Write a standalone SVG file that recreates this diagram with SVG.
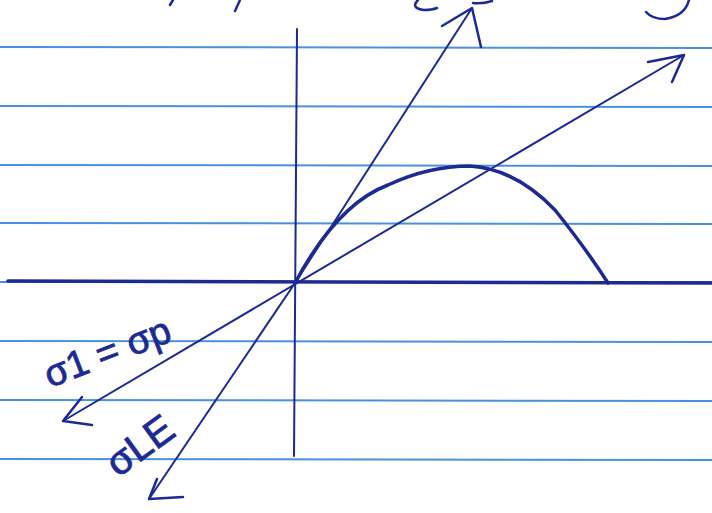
<svg xmlns="http://www.w3.org/2000/svg" width="712" height="513" viewBox="0 0 712 513">
<style>
.rule{stroke:#4a90dc;stroke-width:2;fill:none}
.ink{stroke:#1c2a92;fill:none;stroke-linecap:round;stroke-linejoin:round}
.lbl{font-family:"Liberation Sans",Arial,sans-serif;fill:#1c2a92;stroke:#1c2a92;stroke-width:0.8}
</style>
<rect width="712" height="513" fill="#ffffff"/>
<g id="paper">
<line class="rule" x1="0" y1="47" x2="712" y2="48"/>
<line class="rule" x1="0" y1="106" x2="712" y2="107"/>
<line class="rule" x1="0" y1="165" x2="712" y2="166"/>
<line class="rule" x1="0" y1="223" x2="712" y2="224"/>
<line class="rule" x1="0" y1="282" x2="712" y2="282"/>
<line class="rule" x1="0" y1="341" x2="712" y2="342"/>
<line class="rule" x1="0" y1="400" x2="712" y2="401"/>
<line class="rule" x1="0" y1="459" x2="712" y2="460"/>
</g>
<g id="fragments">
<path class="ink" stroke-width="2.5" d="M173 0 L170 5"/>
<path class="ink" stroke-width="2.5" d="M240 0 L235 11"/>
<path class="ink" stroke-width="2.5" d="M418 0 Q410 8 424 10 Q432 10 437 8"/>
<path class="ink" stroke-width="2.5" d="M473 3 Q483 4 492 1"/>
<path class="ink" stroke-width="2.5" d="M689 0 Q685 16 665 19 Q652 19 646 12"/>
</g>
<g id="axes">
<line class="ink" stroke-width="3.5" x1="8" y1="281" x2="712" y2="283"/>
<line class="ink" stroke-width="2" x1="297" y1="29" x2="294" y2="456"/>
</g>
<g id="curve">
<path class="ink" stroke-width="3.5" d="M295 283 C318 240 348 200 388 185 C418 171 445 166 470 166 C502 168 530 184 555 210 C575 235 592 258 608 283"/>
</g>
<g id="connectors">
<line class="ink" stroke-width="2" x1="472" y1="8" x2="295" y2="283"/>
<path class="ink" stroke-width="2.5" d="M442 26 L472 8 L481 47"/>
<line class="ink" stroke-width="2" x1="684" y1="55" x2="63" y2="421"/>
<path class="ink" stroke-width="2.5" d="M648 62 L684 55 L672 82"/>
<path class="ink" stroke-width="2.5" d="M82 397 L63 421 L92 425"/>
<line class="ink" stroke-width="2" x1="295" y1="283" x2="149" y2="499"/>
<path class="ink" stroke-width="2.5" d="M157 479 L149 499 L183 497"/>
</g>
<g id="labels">
<text class="lbl" font-size="38" transform="translate(50 388) rotate(-21)">σ1 = σp</text>
<text class="lbl" font-size="40" transform="translate(118 478) rotate(-36)">σLE</text>
</g>
</svg>
